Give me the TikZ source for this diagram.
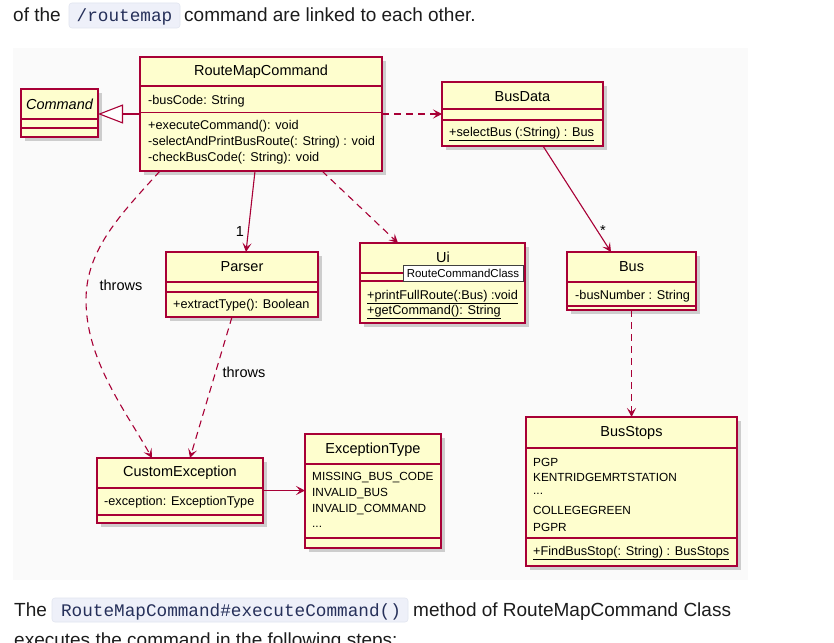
\documentclass[tikz,border=0pt]{standalone}
\usepackage{fontspec}
\setmainfont{Liberation Sans}
\newfontfamily\codefont{Liberation Mono}
\usetikzlibrary{arrows.meta,shadows}
\definecolor{umlred}{HTML}{A80036}
\definecolor{umlfill}{HTML}{FEFECE}
\definecolor{panelbg}{HTML}{FAFAFA}
\definecolor{codebg}{HTML}{EEF0F9}
\definecolor{codeborder}{HTML}{E2E5F0}
\definecolor{codetext}{HTML}{26305A}
\definecolor{bodytext}{HTML}{1C1C1C}
\begin{document}
\begin{tikzpicture}[x=1pt,y=-1pt,
  umlbox/.style={draw=umlred, line width=1.1pt, fill=umlfill, inner sep=0pt, outer sep=0pt,
    drop shadow={shadow xshift=3.5pt, shadow yshift=-3.5pt, opacity=0.3, fill=black!60}},
  sepline/.style={draw=umlred, line width=1.1pt},
  ctitle/.style={font=\fontsize{14.5}{16}\selectfont, inner sep=0pt},
  member/.style={font=\fontsize{12.7}{14}\selectfont, anchor=west, inner sep=0pt},
  capmember/.style={font=\fontsize{11.8}{14}\selectfont, anchor=west, inner sep=0pt},
  conn/.style={draw=umlred, line width=1.1pt},
  dep/.style={conn, dash pattern=on 7pt off 5pt},
  arr/.style={-{Stealth[length=9pt,width=9pt,inset=4pt]}},
  gen/.style={-{Triangle[length=25pt,width=19pt,fill=white]}},
  elabel/.style={font=\fontsize{14.5}{16}\selectfont, inner sep=0pt, text=black},
  body/.style={font=\fontsize{19}{22}\selectfont, text=bodytext, inner sep=0pt, anchor=base west},
  codebox/.style={fill=codebg, draw=codeborder, line width=0.6pt, rounded corners=3pt, inner sep=0pt},
  codetxt/.style={font=\codefont\fontsize{17.7}{20}\selectfont, text=codetext, inner sep=0pt, anchor=base}
]
\useasboundingbox (0,0) rectangle (834,642);
\clip (0,0) rectangle (834,642);
\fill[white] (0,0) rectangle (834,642);

% ---------- surrounding text ----------
\node[body] (top1) at (13,21.5) {of the};
\node[codebox, minimum width=111pt, minimum height=25pt] (topcode) at (124.5,15.5) {};
\node[codetxt] (topcodet) at (124.5,21.5) {/routemap};
\node[body] (top2) at (184,21.5) {command are linked to each other.};

\node[body] (bot1) at (14,616) {The};
\node[codebox, minimum width=356pt, minimum height=24pt] (botcode) at (230,610) {};
\node[codetxt] (botcodet) at (231,616) {RouteMapCommand\#executeCommand()};
\node[body] (bot2) at (413,616) {method of RouteMapCommand Class};
\node[body] (bot3) at (14,646) {executes the command in the following steps:};

% ---------- diagram panel ----------
\fill[panelbg] (13,48) rectangle (748,580);

% Command
\node[umlbox, minimum width=77pt, minimum height=48pt] (cmd) at (59.5,113) {};
\draw[sepline] (21,119) -- (98,119);
\draw[sepline] (21,128) -- (98,128);
\node[ctitle, font=\fontsize{14.5}{16}\selectfont\itshape] (cmdT) at (59.5,104) {Command};

% RouteMapCommand
\node[umlbox, minimum width=242pt, minimum height=114pt] (rmc) at (261,114) {};
\draw[sepline] (140,86) -- (382,86);
\draw[sepline] (140,112.5) -- (382,112.5);
\node[ctitle] (rmcT) at (261,72) {RouteMapCommand};
\node[member] (rmcA) at (148,101) {-busCode: String};
\node[member] (rmcM1) at (148,126) {+executeCommand(): void};
\node[member] (rmcM2) at (148,142) {-selectAndPrintBusRoute(: String) : void};
\node[member] (rmcM3) at (148,158) {-checkBusCode(: String): void};

% BusData
\node[umlbox, minimum width=161pt, minimum height=64pt] (bd) at (522.5,114) {};
\draw[sepline] (442,109) -- (603,109);
\draw[sepline] (442,120) -- (603,120);
\node[ctitle] (bdT) at (522.5,97) {BusData};
\node[member] (bdM) at (449,134) {\underline{+selectBus (:String) : Bus}};

% Parser
\node[umlbox, minimum width=152pt, minimum height=65pt] (parser) at (242,284.5) {};
\draw[sepline] (166,282) -- (318,282);
\draw[sepline] (166,292) -- (318,292);
\node[ctitle] (parserT) at (242,267) {Parser};
\node[member] (parserM) at (173,305) {+extractType(): Boolean};

% Ui
\node[umlbox, minimum width=165pt, minimum height=80pt] (ui) at (442.5,283) {};
\draw[sepline] (360,273) -- (525,273);
\draw[sepline] (360,281) -- (525,281);
\node[ctitle] (uiT) at (443,257) {Ui};
\node[member] (uiM1) at (367,297) {\underline{+printFullRoute(:Bus) :void}};
\node[member] (uiM2) at (367,312) {\underline{+getCommand(): String}};
\node[draw=black!75, fill=white, line width=0.6pt, minimum width=120pt, minimum height=16pt, inner sep=0pt,
  font=\fontsize{11.5}{13}\selectfont] (tooltip) at (463,273) {RouteCommandClass};

% Bus
\node[umlbox, minimum width=129pt, minimum height=58pt] (bus) at (631.5,281) {};
\draw[sepline] (567,282) -- (696,282);
\draw[sepline] (567,306) -- (696,306);
\node[ctitle] (busT) at (631.5,267) {Bus};
\node[member] (busA) at (575,296) {-busNumber : String};

% BusStops
\node[umlbox, minimum width=211pt, minimum height=149pt] (bs) at (631.5,491.5) {};
\draw[sepline] (526,448) -- (737,448);
\draw[sepline] (526,538) -- (737,538);
\node[ctitle] (bsT) at (631.5,433) {BusStops};
\node[capmember] (bs1) at (533,462) {PGP};
\node[capmember] (bs2) at (533,477) {KENTRIDGEMRTSTATION};
\node[capmember] (bs3) at (533,494) {...};
\node[capmember] (bs4) at (533,510) {COLLEGEGREEN};
\node[capmember] (bs5) at (533,527) {PGPR};
\node[member] (bsM) at (533,553) {\underline{+FindBusStop(: String) : BusStops}};

% CustomException
\node[umlbox, minimum width=166pt, minimum height=65pt] (cex) at (180,490.5) {};
\draw[sepline] (97,488) -- (263,488);
\draw[sepline] (97,515) -- (263,515);
\node[ctitle] (cexT) at (180,473) {CustomException};
\node[member] (cexA) at (104,502) {-exception: ExceptionType};

% ExceptionType
\node[umlbox, minimum width=136pt, minimum height=114pt] (et) at (373,491) {};
\draw[sepline] (305,464) -- (441,464);
\draw[sepline] (305,538) -- (441,538);
\node[ctitle] (etT) at (373,450) {ExceptionType};
\node[capmember] (et1) at (312,478) {MISSING\_BUS\_CODE};
\node[capmember] (et2) at (312,494) {INVALID\_BUS};
\node[capmember] (et3) at (312,510) {INVALID\_COMMAND};
\node[capmember] (et4) at (312,527) {...};

% ---------- connectors ----------
\draw[conn, gen] (rmc.west) -- (rmc.west -| cmd.east);
\draw[dep, arr] (rmc.east) -- (rmc.east -| bd.west);
\draw[conn, arr] ([xshift=-6pt]rmc.south) -- ([xshift=4pt]parser.north);
\node[elabel] (lbl1) at (240,232) {1};
\draw[dep, arr] ([xshift=61pt]rmc.south) -- ([xshift=-44.5pt]ui.north);
\coordinate (thr1s) at ([xshift=-101pt]rmc.south);
\coordinate (thr1e) at ([xshift=-28pt]cex.north);
\draw[dep, arr] (thr1s) .. controls (120,215) and (86,250) .. (86,300) .. controls (86,360) and (125,410) .. (thr1e);
\node[elabel] (lblthr1) at (121,285) {throws};
\draw[dep, arr] ([xshift=-10pt]parser.south) -- ([xshift=10pt]cex.north);
\node[elabel] (lblthr2) at (244,372) {throws};
\draw[conn, arr] (cex.east) -- (cex.east -| et.west);
\draw[conn, arr] ([xshift=20.5pt]bd.south) -- ([xshift=-20.5pt]bus.north);
\node[elabel] (lblstar) at (603,231) {*};
\draw[dep, arr] (bus.south) -- (bs.north);
\end{tikzpicture}
\end{document}
